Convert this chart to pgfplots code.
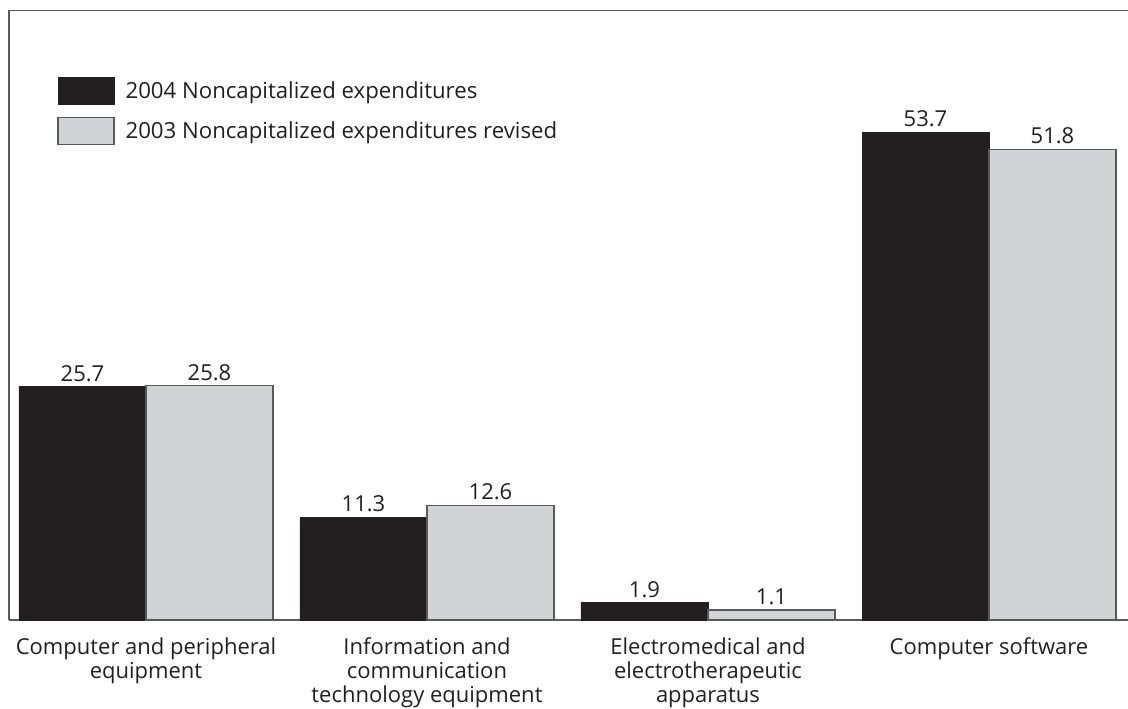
\documentclass[border=0pt]{standalone}
\usepackage{pgfplots}
\pgfplotsset{compat=1.18}
\usepackage{fontspec}
\setmainfont{Open Sans}
\definecolor{barblack}{HTML}{231F20}
\definecolor{bargray}{HTML}{D1D3D4}
\definecolor{axisgray}{HTML}{58595B}
\begin{document}
\begin{tikzpicture}
\begin{axis}[
  at={(0,0)}, anchor=south west,
  scale only axis, width=559.5pt, height=304.75pt,
  ybar=0pt, bar width=63.5pt,
  xmin=-0.4875, xmax=3.4947, ymin=0, ymax=67.1,
  axis x line*=bottom, axis y line*=left,
  axis line style={draw=axisgray, line width=0.75pt},
  ytick=\empty, xtick={0,1,2,3}, major tick length=0pt,
  xticklabels={{Computer and peripheral\\equipment},{Information and\\communication\\technology equipment},{Electromedical and\\electrotherapeutic\\apparatus},{Computer software}},
  xticklabel style={align=center, font=\fontsize{11}{12}\selectfont, text=barblack, yshift=-5.5pt},
  nodes near coords,
  every node near coord/.append style={font=\fontsize{11}{12}\selectfont, text=barblack, yshift=-1pt},
  /pgf/number format/.cd, fixed, fixed zerofill, precision=1, assume math mode=true, /pgfplots/.cd,
  legend style={draw=none, fill=none, at={(0.0429,0.891)}, anchor=north west, inner sep=0pt, font=\fontsize{11.1}{12}\selectfont, row sep=6pt, text=barblack},
  legend cell align=left,
  legend image code/.code={\draw[#1] (0pt,-6.75pt) rectangle (28pt,6.75pt); \path (31.5pt,0pt);},
  clip=false,
]
\addplot[fill=barblack, draw=barblack, line width=0.4pt] coordinates {(0,25.7) (1,11.3) (2,1.9) (3,53.7)};
\addplot[fill=bargray, draw=axisgray, line width=0.6pt] coordinates {(0,25.8) (1,12.6) (2,1.1) (3,51.8)};
\legend{2004 Noncapitalized expenditures, 2003 Noncapitalized expenditures revised}
\draw[axisgray, line width=0.75pt] (rel axis cs:0,1) -- (rel axis cs:1,1);
\end{axis}
\pgfresetboundingbox
\path (-4.5pt,-44pt) rectangle (559.5pt,310pt);
\end{tikzpicture}
\end{document}
